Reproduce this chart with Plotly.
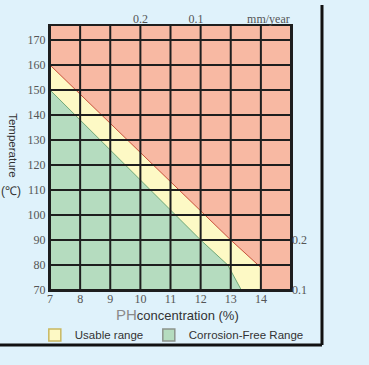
import plotly.graph_objects as go

# ---- data ----
ph_ticks = [7, 8, 9, 10, 11, 12, 13, 14]
temp_ticks = [70, 80, 90, 100, 110, 120, 130, 140, 150, 160, 170]
ph_range = [7, 15]
temp_range = [70, 175.6]

# boundary of usable range (upper, red line)
usable_ph = [7, 13, 14, 14]
usable_temp = [160, 90, 79, 70]
# boundary of corrosion-free range (green line)
free_ph = [7, 12, 12.9, 13.35]
free_temp = [150, 90, 80, 70]

# corrosion-rate labels (mm/year)
rate_labels = ["0.2", "0.1"]
rate_top_ph = [10, 11.85]
rate_right_temp = [90, 70]

legend_names = ["Usable range", "Corrosion-Free Range"]

SALMON = "#f8b9a3"
YELLOW = "#fdf9c5"
GREEN = "#b5dcbf"
BG = "#dff2fb"

fig = go.Figure()

# yellow (usable range) polygon
fig.add_trace(go.Scatter(
    x=[ph_range[0]] + usable_ph + [ph_range[0]],
    y=[temp_range[0]] + usable_temp + [temp_range[0]],
    fill="toself", fillcolor=YELLOW, mode="lines",
    line=dict(width=0), showlegend=False, hoverinfo="skip"))
# green (corrosion free) polygon
fig.add_trace(go.Scatter(
    x=[ph_range[0]] + free_ph + [ph_range[0]],
    y=[temp_range[0]] + free_temp + [temp_range[0]],
    fill="toself", fillcolor=GREEN, mode="lines",
    line=dict(width=0), showlegend=False, hoverinfo="skip"))
# boundary lines
fig.add_trace(go.Scatter(x=usable_ph[:3], y=usable_temp[:3], mode="lines",
                         line=dict(color="#c8503a", width=1), showlegend=False,
                         hoverinfo="skip"))
fig.add_trace(go.Scatter(x=free_ph, y=free_temp, mode="lines",
                         line=dict(color="#6fa878", width=1), showlegend=False,
                         hoverinfo="skip"))

# grid drawn above the fills
gx, gy = [], []
for p in ph_ticks + [ph_range[1]]:
    gx += [p, p, None]
    gy += [temp_range[0], temp_range[1], None]
for t in temp_ticks:
    gx += [ph_range[0], ph_range[1], None]
    gy += [t, t, None]
fig.add_trace(go.Scatter(x=gx, y=gy, mode="lines",
                         line=dict(color="#1e1e1e", width=2),
                         showlegend=False, hoverinfo="skip"))

# legend-only entries
fig.add_trace(go.Scatter(x=[None], y=[None], mode="markers",
                         marker=dict(symbol="square", size=12, color=YELLOW,
                                     line=dict(color="#c9b860", width=1.5)),
                         name=legend_names[0], legend="legend"))
fig.add_trace(go.Scatter(x=[None], y=[None], mode="markers",
                         marker=dict(symbol="square", size=12, color=GREEN,
                                     line=dict(color="#8c948c", width=1.5)),
                         name=legend_names[1], legend="legend2"))

# invisible trace to bind secondary axes
fig.add_trace(go.Scatter(x=rate_top_ph, y=rate_right_temp, xaxis="x2", yaxis="y2",
                         mode="markers", marker=dict(opacity=0), showlegend=False,
                         hoverinfo="skip"))

tickfont = dict(family="Liberation Serif", size=12, color="#555555")
legfont = dict(family="Liberation Sans", size=11.5, color="#333333")

fig.update_layout(
    width=369, height=365,
    paper_bgcolor=BG, plot_bgcolor=SALMON,
    margin=dict(l=50, r=78, t=26, b=75, autoexpand=False),
    xaxis=dict(range=ph_range, tickvals=ph_ticks, showgrid=False, zeroline=False,
               showline=True, linecolor="#1e1e1e", linewidth=2, mirror=True,
               ticks="", tickfont=tickfont, ticklabelstandoff=-3),
    yaxis=dict(range=temp_range, tickvals=temp_ticks, showgrid=False, zeroline=False,
               showline=True, linecolor="#1e1e1e", linewidth=2, mirror=True,
               ticks="", tickfont=tickfont),
    xaxis2=dict(range=ph_range, overlaying="x", side="top", anchor="y",
                tickvals=rate_top_ph + [14.25], ticktext=rate_labels + ["mm/year"],
                showgrid=False, zeroline=False, ticks="", tickfont=tickfont),
    yaxis2=dict(range=temp_range, overlaying="y", side="right", anchor="x",
                tickvals=rate_right_temp, ticktext=rate_labels,
                showgrid=False, zeroline=False, ticks="", tickfont=tickfont),
    showlegend=True,
    legend=dict(orientation="h", x=-0.063, xanchor="left", y=-0.17, yanchor="middle",
                bgcolor="rgba(0,0,0,0)", font=legfont, itemwidth=30),
    legend2=dict(orientation="h", x=0.41, xanchor="left", y=-0.17, yanchor="middle",
                 bgcolor="rgba(0,0,0,0)", font=legfont, itemwidth=30),
)

fig.add_annotation(
    text="<span style='font-size:15px;color:#8a8a8a'>PH</span>concentration (%)",
    xref="paper", yref="paper", x=0.53, y=-0.093, xanchor="center", yanchor="middle",
    showarrow=False, font=dict(family="Liberation Sans", size=13, color="#333333"))
fig.add_annotation(
    text="Temperature", textangle=90, xref="paper", yref="paper",
    x=-0.153, y=0.548, xanchor="center", yanchor="middle", showarrow=False,
    font=dict(family="Liberation Sans", size=11.5, color="#333333"))
fig.add_annotation(
    text="(℃)", xref="paper", yref="paper", x=-0.16, y=0.375,
    xanchor="center", yanchor="middle", showarrow=False,
    font=dict(family="Liberation Sans", size=12, color="#333333"))

# outer shadow frame (right and bottom)
fig.add_shape(type="line", xref="paper", yref="paper", x0=1.1286, x1=1.1286,
              y0=1.0795, y1=-0.2083, line=dict(color="#111111", width=3))
fig.add_shape(type="line", xref="paper", yref="paper", x0=-0.21, x1=1.1286,
              y0=-0.2083, y1=-0.2083, line=dict(color="#111111", width=3))

fig.write_html(
    "out.html",
    config={"displayModeBar": False},
    post_script="document.body.style.margin='0';"
                "document.body.style.background='" + BG + "';")
